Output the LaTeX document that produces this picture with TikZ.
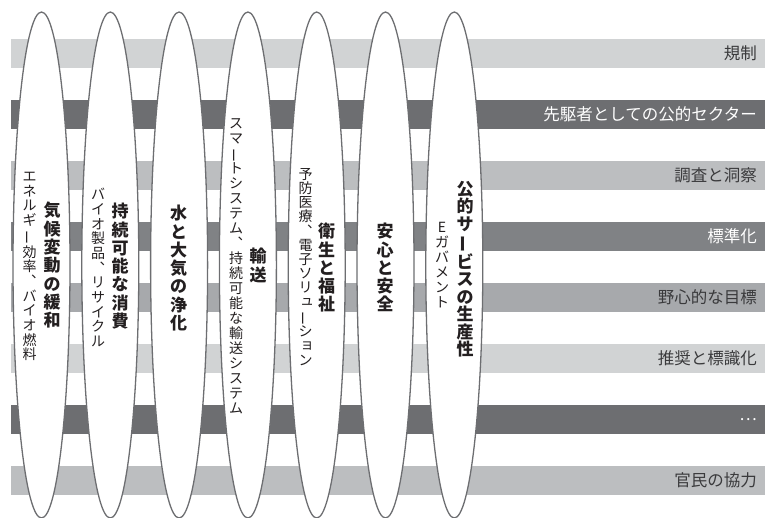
\documentclass[tikz,border=0pt]{standalone}
\usepackage{fontspec}
\usepackage{graphicx}
\setmainfont{Noto Sans CJK JP}
\usetikzlibrary{shapes.geometric}
\definecolor{bandL}{HTML}{D1D3D4}
\definecolor{bandM}{HTML}{BCBEC0}
\definecolor{bandN}{HTML}{A7A9AC}
\definecolor{bandD}{HTML}{6D6E71}
\definecolor{bandE}{HTML}{808285}
\definecolor{outl}{HTML}{6D6E71}
\definecolor{txt}{HTML}{231F20}
\definecolor{labtxt}{HTML}{3A3A3C}
\newcommand{\vbar}{\rotatebox[origin=c]{90}{ー}}
\newcommand{\vcom}{︑}
\newcommand{\vsm}[1]{\makebox[1em][l]{\hspace*{0.12em}\raisebox{0.1em}{#1}}}
\tikzset{
  ovalbox/.style={draw=outl, line width=1.3pt, fill=white, ellipse, inner sep=0pt,
    minimum width=57pt, minimum height=506pt},
  subtxt/.style={font=\fontsize{14}{14.7}\selectfont, align=center, inner sep=0pt,
    anchor=north, text=txt},
  ttltxt/.style={font=\bfseries\fontsize{17}{18.3}\selectfont, align=center, inner sep=0pt,
    anchor=north, text=txt},
  labdark/.style={font=\fontsize{16.5}{16.5}\selectfont, inner sep=0pt, anchor=east, text=labtxt},
  lablight/.style={font=\fontsize{16.5}{16.5}\selectfont, inner sep=0pt, anchor=east, text=white},
}
\begin{document}
\begin{tikzpicture}[x=1pt, y=-1pt]
\useasboundingbox (0,0) rectangle (765,518);
\clip (0,0) rectangle (765,518);
% bands
\fill[bandL] (11,39) rectangle (765,68);
\fill[bandD] (11,100) rectangle (765,129);
\fill[bandM] (11,161) rectangle (765,190);
\fill[bandE] (11,222) rectangle (765,251);
\fill[bandN] (11,283) rectangle (765,312);
\fill[bandL] (11,344) rectangle (765,373);
\fill[bandD] (11,405) rectangle (765,434);
\fill[bandM] (11,466) rectangle (765,495);
% band labels
\node[labdark]  (l1) at (757,53.5)  {規制};
\node[lablight] (l2) at (757,114.5) {先駆者としての公的セクター};
\node[labdark]  (l3) at (757,175.5) {調査と洞察};
\node[lablight] (l4) at (757,236.5) {標準化};
\node[labdark]  (l5) at (757,297.5) {野心的な目標};
\node[labdark]  (l6) at (757,358.5) {推奨と標識化};
\node[lablight] (l7) at (757,419.5) {…};
\node[labdark]  (l8) at (757,480.5) {官民の協力};
% ovals
\node[ovalbox] (e1) at (41.5,265) {};
\node[ovalbox] (e2) at (110.3,265) {};
\node[ovalbox] (e3) at (179.1,265) {};
\node[ovalbox] (e4) at (247.9,265) {};
\node[ovalbox] (e5) at (316.7,265) {};
\node[ovalbox] (e6) at (385.5,265) {};
\node[ovalbox] (e7) at (454.3,265) {};
% texts
\node[subtxt] (s1) at (29.5,172) {エ\\ネ\\ル\\ギ\\\vbar\\効\\率\\\vcom\\バ\\イ\\オ\\燃\\料};
\node[ttltxt] (t1) at (52,202) {気\\候\\変\\動\\の\\緩\\和};
\node[subtxt] (s2) at (98,188) {バ\\イ\\オ\\製\\品\\\vcom\\リ\\サ\\イ\\ク\\ル};
\node[ttltxt] (t2) at (120,203) {持\\続\\可\\能\\な\\消\\費};
\node[ttltxt] (t3) at (178.5,205) {水\\と\\大\\気\\の\\浄\\化};
\node[subtxt, font=\fontsize{14}{15}\selectfont] (s4) at (236,118) {ス\\マ\\\vbar\\ト\\シ\\ス\\テ\\ム\\\vcom\\持\\続\\可\\能\\な\\輸\\送\\シ\\ス\\テ\\ム};
\node[ttltxt] (t4) at (258,248) {輸\\送};
\node[subtxt, font=\fontsize{14}{14.2}\selectfont] (s5) at (305.5,168) {予\\防\\医\\療\\\vcom\\電\\子\\ソ\\リ\\\vsm{ュ}\\\vbar\\シ\\\vsm{ョ}\\ン};
\node[ttltxt] (t5) at (326.5,223) {衛\\生\\と\\福\\祉};
\node[ttltxt] (t6) at (385,223) {安\\心\\と\\安\\全};
\node[ttltxt, font=\bfseries\fontsize{17}{17.5}\selectfont] (t7) at (465,181) {公\\的\\サ\\\vbar\\ビ\\ス\\の\\生\\産\\性};
\node[subtxt, font=\fontsize{14}{15}\selectfont] (s7) at (442,222) {E\\ガ\\バ\\メ\\ン\\ト};
\end{tikzpicture}
\end{document}
